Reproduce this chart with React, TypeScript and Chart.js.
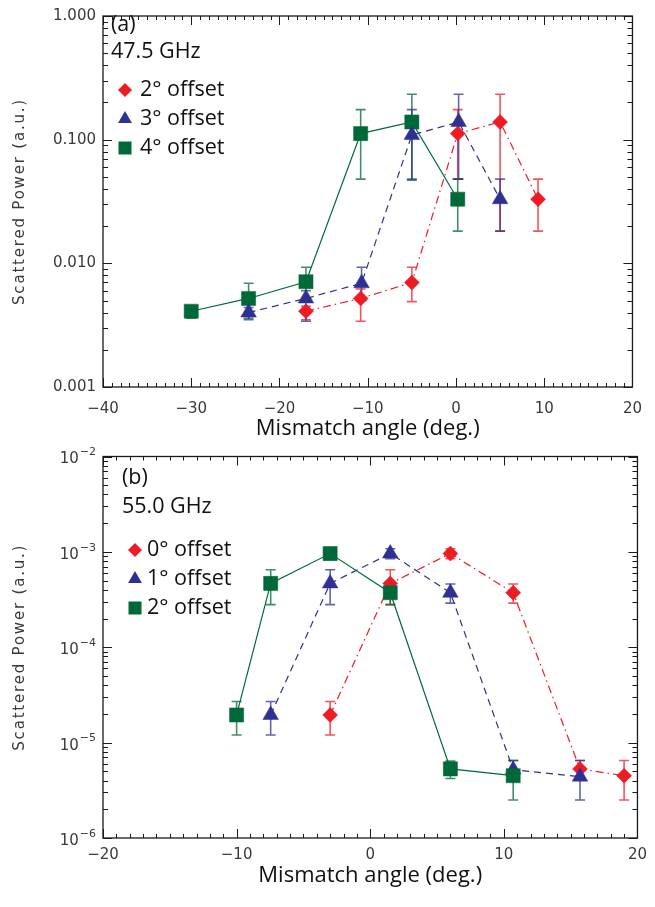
import React, { useEffect, useRef } from 'react';
import { Chart, registerables } from 'chart.js';

Chart.register(...registerables);

const RED = '#ED1C24';
const BLUE = '#2E3192';
const GREEN = '#00693A';
const RED_E = 'rgba(237,28,36,0.75)';
const BLUE_E = 'rgba(46,49,146,0.75)';
const GREEN_E = 'rgba(0,105,58,0.75)';

// ---------- Panel (a): 47.5 GHz ----------
const aX2 = [-17, -10.8, -5, 0.2, 5.0, 9.3];
const aY2 = [0.0041, 0.0052, 0.0070, 0.112, 0.139, 0.033];
const aHi2 = [0.0045, 0.0062, 0.0093, 0.175, 0.233, 0.048];
const aLo2 = [0.0035, 0.0034, 0.0049, 0.048, 0.0182, 0.0182];

const aX3 = [-23.5, -17, -10.7, -5, 0.3, 5.0];
const aY3 = [0.0040, 0.0052, 0.0069, 0.109, 0.139, 0.033];
const aHi3 = [0.0044, 0.0060, 0.0093, 0.175, 0.233, 0.048];
const aLo3 = [0.0035, 0.0034, 0.0050, 0.048, 0.048, 0.0182];

const aX4 = [-30, -23.5, -17, -10.8, -5, 0.2];
const aY4 = [0.0041, 0.0052, 0.0071, 0.112, 0.139, 0.033];
const aHi4 = [0.0045, 0.0069, 0.0093, 0.175, 0.233, 0.048];
const aLo4 = [0.0036, 0.0036, 0.0052, 0.048, 0.047, 0.0182];

const aXTicks = [-40, -30, -20, -10, 0, 10, 20];
const aYTicks = [0.001, 0.01, 0.1, 1];

// ---------- Panel (b): 55.0 GHz ----------
const bX0 = [-3, 1.5, 6, 10.7, 15.7, 19];
const bY0 = [1.95e-5, 4.67e-4, 9.6e-4, 3.73e-4, 5.3e-6, 4.5e-6];
const bHi0 = [2.7e-5, 6.5e-4, 1.08e-3, 4.6e-4, 6.5e-6, 6.5e-6];
const bLo0 = [1.2e-5, 2.8e-4, 8.5e-4, 2.9e-4, 4.4e-6, 2.5e-6];

const bX1 = [-7.45, -3, 1.5, 6, 10.7, 15.7];
const bY1 = [1.95e-5, 4.67e-4, 9.6e-4, 3.73e-4, 5.2e-6, 4.4e-6];
const bHi1 = [2.7e-5, 6.5e-4, 1.08e-3, 4.6e-4, 6.5e-6, 6.5e-6];
const bLo1 = [1.2e-5, 2.8e-4, 8.5e-4, 2.9e-4, 4.2e-6, 2.5e-6];

const bX2 = [-10, -7.45, -3, 1.5, 6, 10.7];
const bY2 = [1.95e-5, 4.67e-4, 9.6e-4, 3.73e-4, 5.3e-6, 4.5e-6];
const bHi2 = [2.7e-5, 6.5e-4, 1.0e-3, 4.4e-4, 6.4e-6, 6.5e-6];
const bLo2 = [1.2e-5, 2.8e-4, 9.2e-4, 2.8e-4, 4.2e-6, 2.5e-6];

const bXTicks = [-20, -10, 0, 10, 20];
const bYTicks = [1e-6, 1e-5, 1e-4, 1e-3, 1e-2];

const X_TITLE = 'Mismatch angle (deg.)';
const Y_TITLE = 'Scattered Power (a.u.)';

const pts = (xs: number[], ys: number[]) => xs.map((x, i) => ({ x, y: ys[i] }));
const fmtX = (v: number) => (v < 0 ? '\u2212' + Math.abs(v) : String(v));

const TICK_FONT = '15px "DejaVu Sans", sans-serif';
const TEXT_FONT = '"Open Sans", "Noto Sans", sans-serif';

// ---------- plugins ----------
const frame = {
  id: 'frame',
  afterDraw(chart: any) {
    const { ctx, chartArea: ca } = chart;
    const xs = chart.scales.x;
    const ys = chart.scales.y;
    ctx.save();
    ctx.strokeStyle = '#1a1a1a';
    ctx.lineWidth = 1.3;
    ctx.strokeRect(ca.left, ca.top, ca.right - ca.left, ca.bottom - ca.top);
    ctx.lineWidth = 1;
    ctx.beginPath();
    const lo = Math.round(xs.min);
    const hi = Math.round(xs.max);
    for (let v = lo; v <= hi; v += 1) {
      const px = Math.round(xs.getPixelForValue(v)) + 0.5;
      const major = v % 10 === 0;
      const len = major ? 9 : 4;
      ctx.moveTo(px, ca.bottom);
      ctx.lineTo(px, ca.bottom - len);
      ctx.moveTo(px, ca.top);
      ctx.lineTo(px, ca.top + len);
    }
    const d0 = Math.round(Math.log10(ys.min));
    const d1 = Math.round(Math.log10(ys.max));
    for (let d = d0; d <= d1; d++) {
      for (let m = 1; m <= 9; m++) {
        const val = m * Math.pow(10, d);
        if (val > ys.max * 1.0001) break;
        const py = Math.round(ys.getPixelForValue(val)) + 0.5;
        const len = m === 1 ? 9 : 5;
        ctx.moveTo(ca.left, py);
        ctx.lineTo(ca.left + len, py);
        ctx.moveTo(ca.right, py);
        ctx.lineTo(ca.right - len, py);
      }
    }
    ctx.stroke();
    ctx.restore();
  },
};

const errorBars = {
  id: 'errorBars',
  beforeDatasetsDraw(chart: any) {
    const { ctx, chartArea: ca } = chart;
    const xs = chart.scales.x;
    const ys = chart.scales.y;
    ctx.save();
    ctx.beginPath();
    ctx.rect(ca.left, ca.top, ca.right - ca.left, ca.bottom - ca.top);
    ctx.clip();
    const n = chart.data.datasets.length;
    for (let i = n - 1; i >= 0; i--) {
      const ds = chart.data.datasets[i];
      if (!ds.errHi) continue;
      ctx.strokeStyle = ds.errColor;
      ctx.lineWidth = 1.6;
      ds.data.forEach((p: any, j: number) => {
        const px = xs.getPixelForValue(p.x);
        const yh = ys.getPixelForValue(ds.errHi[j]);
        const yl = ys.getPixelForValue(ds.errLo[j]);
        ctx.beginPath();
        ctx.moveTo(px, yh);
        ctx.lineTo(px, yl);
        ctx.moveTo(px - 5, yh);
        ctx.lineTo(px + 5, yh);
        ctx.moveTo(px - 5, yl);
        ctx.lineTo(px + 5, yl);
        ctx.stroke();
      });
    }
    ctx.restore();
  },
};

function drawMarker(ctx: CanvasRenderingContext2D, shape: string, x: number, y: number, color: string) {
  ctx.fillStyle = color;
  ctx.beginPath();
  if (shape === 'diamond') {
    const r = 7;
    ctx.moveTo(x, y - r);
    ctx.lineTo(x + r, y);
    ctx.lineTo(x, y + r);
    ctx.lineTo(x - r, y);
  } else if (shape === 'triangle') {
    const r = 8;
    ctx.moveTo(x, y - r);
    ctx.lineTo(x + r * 0.866, y + r * 0.5);
    ctx.lineTo(x - r * 0.866, y + r * 0.5);
  } else {
    const h = 6.5;
    ctx.rect(x - h, y - h, 2 * h, 2 * h);
  }
  ctx.closePath();
  ctx.fill();
}

const annot = {
  id: 'annot',
  afterDatasetsDraw(chart: any, _a: any, o: any) {
    const { ctx, chartArea: ca } = chart;
    ctx.save();
    ctx.fillStyle = '#111';
    ctx.textBaseline = 'middle';
    ctx.textAlign = 'left';
    ctx.font = `21.5px ${TEXT_FONT}`;
    ctx.fillText(o.label, o.textX, o.labelY);
    ctx.fillText(o.freq, o.textX, o.freqY);
    o.entries.forEach((e: any, i: number) => {
      const y = o.legY + i * o.legDy;
      drawMarker(ctx, e.shape, o.markX, y, e.color);
      ctx.fillStyle = '#111';
      ctx.fillText(e.text, o.legTextX, y);
    });
    // y-axis title (letter-spaced, like the original)
    ctx.save();
    ctx.translate(o.yTitleX, (ca.top + ca.bottom) / 2);
    ctx.rotate(-Math.PI / 2);
    ctx.textAlign = 'center';
    ctx.fillStyle = '#3a3a3a';
    ctx.font = '15px "DejaVu Sans", sans-serif';
    (ctx as any).letterSpacing = '1.8px';
    ctx.fillText(Y_TITLE, 0, 0);
    ctx.restore();
    // power-of-ten tick labels
    if (o.supTicks) {
      const ys = chart.scales.y;
      ctx.fillStyle = '#3a3a3a';
      ctx.textAlign = 'right';
      o.supTicks.forEach((v: number) => {
        const py = ys.getPixelForValue(v);
        const e = String(Math.round(Math.log10(v))).replace('-', '\u2212');
        const right = ca.left - 7;
        ctx.font = '11px "DejaVu Sans", sans-serif';
        const ew = ctx.measureText(e).width;
        ctx.fillText(e, right, py - 4);
        ctx.font = TICK_FONT;
        ctx.fillText('10', right - ew - 1, py + 3);
      });
    }
    ctx.restore();
  },
};

const tickFont = { family: '"DejaVu Sans", sans-serif', size: 15 };

function makeConfig(p: any) {
  return {
    type: 'scatter',
    data: { datasets: p.datasets },
    plugins: [errorBars, frame, annot],
    options: {
      animation: false,
      responsive: false,
      devicePixelRatio: 1,
      layout: { padding: { top: p.padTop, right: 12, left: 0, bottom: 0 } },
      plugins: {
        legend: { display: false },
        tooltip: { enabled: false },
        annot: p.annot,
      },
      scales: {
        x: {
          type: 'linear',
          min: p.xTicks[0],
          max: p.xTicks[p.xTicks.length - 1],
          afterBuildTicks: (s: any) => { s.ticks = p.xTicks.map((v: number) => ({ value: v })); },
          afterFit: (s: any) => { s.height = p.xHeight; },
          grid: { display: false, drawTicks: false },
          border: { display: false },
          ticks: { callback: (v: number) => fmtX(v), font: tickFont, color: '#3a3a3a', padding: p.xTickPad, maxRotation: 0, autoSkip: false },
          title: {
            display: true, text: X_TITLE, color: '#111',
            font: { family: TEXT_FONT, size: 22 },
            padding: { top: 0, bottom: p.xTitlePad },
          },
        },
        y: {
          type: 'logarithmic',
          min: p.yTicks[0],
          max: p.yTicks[p.yTicks.length - 1],
          afterBuildTicks: (s: any) => { s.ticks = p.yTicks.map((v: number) => ({ value: v })); },
          afterFit: (s: any) => { s.width = 103; },
          grid: { display: false, drawTicks: false },
          border: { display: false },
          ticks: { display: !p.annot.supTicks, callback: p.yFmt, font: tickFont, color: '#3a3a3a', padding: 7, autoSkip: false },
          title: { display: false },
        },
      },
    },
  };
}

function ds(label: string, xs: number[], ys: number[], lo: number[], hi: number[], color: string, ecolor: string, style: string, radius: number, dash: number[]) {
  return {
    label,
    data: pts(xs, ys),
    showLine: true,
    borderColor: color,
    backgroundColor: color,
    borderWidth: 1.2,
    borderDash: dash,
    pointStyle: style,
    pointRadius: radius,
    pointBorderWidth: 0.5,
    pointBorderColor: color,
    pointBackgroundColor: color,
    errLo: lo,
    errHi: hi,
    errColor: ecolor,
  };
}

const DASH = [7, 5];
const DASHDOT = [8, 4, 1.5, 4];

const panelA = {
  padTop: 12,
  xHeight: 59,
  xTickPad: 13,
  xTitlePad: 4,
  xTicks: aXTicks,
  yTicks: aYTicks,
  yFmt: (v: number) => v.toFixed(3),
  datasets: [
    ds('3° offset', aX3, aY3, aLo3, aHi3, BLUE, BLUE_E, 'triangle', 9, DASH),
    ds('4° offset', aX4, aY4, aLo4, aHi4, GREEN, GREEN_E, 'rect', 10, []),
    ds('2° offset', aX2, aY2, aLo2, aHi2, RED, RED_E, 'rectRot', 7.5, DASHDOT),
  ],
  annot: {
    label: '(a)', freq: '47.5 GHz', textX: 111, labelY: 25, freqY: 52,
    markX: 125, legTextX: 140, legY: 90, legDy: 29, yTitleX: 20,
    entries: [
      { text: '2° offset', color: RED, shape: 'diamond' },
      { text: '3° offset', color: BLUE, shape: 'triangle' },
      { text: '4° offset', color: GREEN, shape: 'square' },
    ],
  },
};

const panelB = {
  padTop: 10,
  xHeight: 69,
  xTickPad: 8,
  xTitlePad: 18,
  xTicks: bXTicks,
  yTicks: bYTicks,
  yFmt: (v: number) => String(v),
  datasets: [
    ds('2° offset', bX2, bY2, bLo2, bHi2, GREEN, GREEN_E, 'rect', 10, []),
    ds('1° offset', bX1, bY1, bLo1, bHi1, BLUE, BLUE_E, 'triangle', 9, DASH),
    ds('0° offset', bX0, bY0, bLo0, bHi0, RED, RED_E, 'rectRot', 7.5, DASHDOT),
  ],
  annot: {
    label: '(b)', freq: '55.0 GHz', textX: 122, labelY: 32, freqY: 61,
    markX: 135, legTextX: 147, legY: 104, legDy: 29, yTitleX: 20,
    supTicks: bYTicks,
    entries: [
      { text: '0° offset', color: RED, shape: 'diamond' },
      { text: '1° offset', color: BLUE, shape: 'triangle' },
      { text: '2° offset', color: GREEN, shape: 'square' },
    ],
  },
};

function Panel({ cfg, top, height }: { cfg: any; top: number; height: number }) {
  const ref = useRef<HTMLCanvasElement | null>(null);
  useEffect(() => {
    if (!ref.current) return;
    const chart = new Chart(ref.current, makeConfig(cfg) as any);
    return () => chart.destroy();
  }, [cfg]);
  return (
    <canvas
      ref={ref}
      width={655}
      height={height}
      style={{ position: 'absolute', left: 0, top, width: 655, height }}
    />
  );
}

export default function App() {
  return (
    <div style={{ position: 'absolute', left: 0, top: 0, width: 655, height: 907, background: '#fff' }}>
      <Panel cfg={panelA} top={0} height={446} />
      <Panel cfg={panelB} top={446} height={461} />
    </div>
  );
}
